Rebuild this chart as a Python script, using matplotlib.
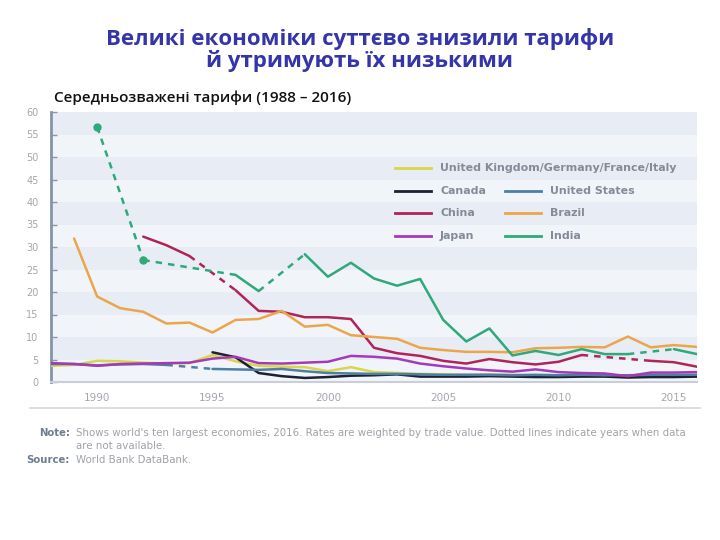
import numpy as np
import matplotlib
matplotlib.use('Agg')  # noqa
import matplotlib.pyplot as plt

# data (weighted mean tariff, %)
years = list(range(1988, 2017))
nan = np.nan

uk_de_fr_it = [3.6, 3.8, 4.7, 4.6, 4.3, 4.1, 4.2, 6.0, 4.6, 3.6, 3.4, 3.3, 2.4, 3.3,
               2.2, 2.0, 1.8, 1.7, 1.6, 1.7, 1.6, 1.5, 1.4, 1.6, 1.5, 1.0, 1.4, 1.5, 1.5]
canada = [nan, nan, nan, nan, nan, nan, nan, 6.6, 5.5, 2.0, 1.3, 0.9, 1.1, 1.4,
          1.5, 1.7, 1.2, 1.2, 1.2, 1.3, 1.2, 1.1, 1.1, 1.2, 1.2, 1.0, 1.1, 1.1, 1.2]
united_states = [4.0, 4.0, 3.7, 3.9, 4.0, 3.8, nan, 2.9, 2.8, 2.7, 2.9, 2.4, 2.0, 1.9,
                 1.8, 1.8, 1.7, 1.6, 1.6, 1.6, 1.5, 1.6, 1.5, 1.6, 1.5, 1.5, 1.6, 1.6, 1.6]
china = [nan, nan, nan, nan, 32.3, 30.4, 28.0, nan, 20.4, 15.8, 15.6, 14.4, 14.4, 14.0,
         7.6, 6.4, 5.8, 4.7, 4.1, 5.1, 4.4, 3.9, 4.5, 6.0, nan, nan, 4.7, 4.4, 3.4]
brazil = [nan, 31.9, 19.0, 16.4, 15.6, 13.0, 13.2, 11.0, 13.8, 14.0, 15.8, 12.3, 12.7, 10.4,
          10.0, 9.6, 7.6, 7.1, 6.7, 6.7, 6.6, 7.5, 7.6, 7.8, 7.7, 10.1, 7.7, 8.2, 7.8]
japan = [4.2, 4.0, 3.6, 4.0, 4.1, 4.2, 4.3, 5.2, 5.6, 4.2, 4.1, 4.3, 4.5, 5.8,
         5.6, 5.2, 4.1, 3.5, 3.0, 2.6, 2.3, 2.8, 2.2, 2.0, 1.9, 1.3, 2.1, 2.1, 2.2]
india = [nan, nan, 56.7, nan, 27.1, nan, nan, nan, 23.8, 20.2, nan, 28.4, 23.4, 26.5,
         23.0, 21.4, 22.9, 13.8, 9.0, 11.9, 5.9, 6.9, 6.0, 7.3, 6.2, 6.2, nan, 7.3, 6.2]

series = [
    ('United Kingdom/Germany/France/Italy', uk_de_fr_it, '#d8d64a'),
    ('Canada', canada, '#1e2130'),
    ('United States', united_states, '#4d7fa6'),
    ('China', china, '#b02458'),
    ('Brazil', brazil, '#eba64c'),
    ('Japan', japan, '#a53ab8'),
    ('India', india, '#2fa97a'),
]

title = 'Великі економіки суттєво знизили тарифи\nй утримують їх низькими'
subtitle = 'Середньозважені тарифи (1988 – 2016)'
note = ("Shows world's ten largest economies, 2016. Rates are weighted by trade value. "
        "Dotted lines indicate years when data\nare not available.")
source = 'World Bank DataBank.'


def draw_series(ax, x, y, color):
    x = np.array(x, dtype=float)
    y = np.array(y, dtype=float)
    ax.plot(x, y, color=color, lw=1.8, solid_capstyle='round', zorder=3)
    ok = np.where(~np.isnan(y))[0]
    # dashed bridges over missing years
    for a, b in zip(ok[:-1], ok[1:]):
        if b - a > 1:
            ax.plot([x[a], x[b]], [y[a], y[b]], color=color, lw=1.8,
                    ls=(0, (2.6, 2.4)), zorder=3)
    # isolated points get a dot
    for i in ok:
        left = i - 1 >= 0 and not np.isnan(y[i - 1])
        right = i + 1 < len(y) and not np.isnan(y[i + 1])
        if not left and not right:
            ax.plot(x[i], y[i], 'o', color=color, ms=5, zorder=4)


fig = plt.figure(figsize=(7.2, 5.4), dpi=100)
ax = fig.add_axes([51 / 720, 1 - 382 / 540, 646 / 720, 270 / 540])

# striped background
for k, lo in enumerate(range(0, 60, 5)):
    ax.axhspan(lo, lo + 5, color='#f1f4f9' if k % 2 == 0 else '#e8ecf4', lw=0, zorder=0)

for name, vals, col in series:
    draw_series(ax, years, vals, col)

ax.set_xlim(1988, 2016)
ax.set_ylim(0, 60)
ax.set_yticks(range(0, 61, 5))
ax.set_xticks([1990, 1995, 2000, 2005, 2010, 2015])
ax.tick_params(axis='y', direction='in', length=4, width=1, color='#8a97aa',
               labelcolor='#a3a6ad', labelsize=7, pad=9)
ax.tick_params(axis='x', length=0, labelcolor='#a3a6ad', labelsize=7.5, pad=8)
for s in ['top', 'right']:
    ax.spines[s].set_visible(False)
ax.spines['left'].set_color('#8494ab')
ax.spines['left'].set_linewidth(2)
ax.spines['bottom'].set_color('#c9ced8')
ax.spines['bottom'].set_linewidth(1.5)


# legend drawn by hand in figure pixels
def px(x, y):
    return x / 720, 1 - y / 540


legend_pos = {
    'United Kingdom/Germany/France/Italy': (395, 168),
    'Canada': (395, 191), 'United States': (505, 191),
    'China': (395, 213), 'Brazil': (505, 213),
    'Japan': (395, 236), 'India': (505, 236),
}
for name, vals, col in series:
    lx, ly = legend_pos[name]
    x0, y0 = px(lx, ly)
    x1, _ = px(lx + 36, ly)
    fig.add_artist(plt.Line2D([x0, x1], [y0, y0], color=col, lw=2))
    fig.text(px(lx + 45, ly)[0], y0, name, color='#858a98', fontsize=7.9,
             fontweight='bold', va='center', ha='left')

fig.text(0.5, px(0, 50)[1], title, ha='center', va='center', color='#3535aa',
         fontsize=16, fontweight='bold', family='Open Sans', linespacing=1.0)
fig.text(px(54, 0)[0], px(0, 98)[1], subtitle, ha='left', va='center',
         color='#111111', fontsize=11, fontweight='semibold', family='Open Sans')

fig.add_artist(plt.Line2D([30 / 720, 700 / 720], [px(0, 408)[1]] * 2,
                          color='#d5d7dc', lw=1.2))
fig.text(px(70, 0)[0], px(0, 433)[1], 'Note:', ha='right', va='center',
         color='#6f7d92', fontsize=7.3, fontweight='bold')
fig.text(px(76, 0)[0], px(0, 433)[1], note.split('\n')[0], ha='left', va='center',
         color='#a0a2a8', fontsize=7.4)
fig.text(px(76, 0)[0], px(0, 446)[1], note.split('\n')[1], ha='left', va='center',
         color='#a0a2a8', fontsize=7.4)
fig.text(px(70, 0)[0], px(0, 460)[1], 'Source:', ha='right', va='center',
         color='#6f7d92', fontsize=7.3, fontweight='bold')
fig.text(px(76, 0)[0], px(0, 460)[1], source, ha='left', va='center',
         color='#a0a2a8', fontsize=7.4)

plt.savefig('out.png', dpi=100)
